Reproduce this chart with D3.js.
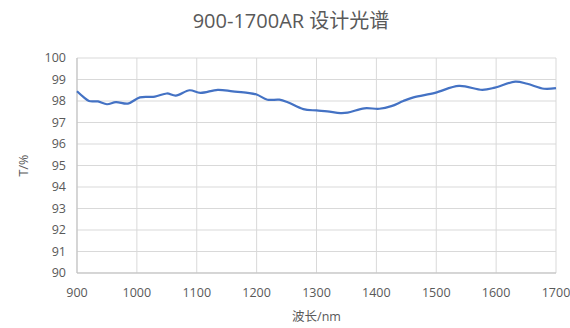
<!DOCTYPE html>
<html>
<head>
<meta charset="utf-8">
<script src="https://cdn.jsdelivr.net/npm/d3@7"></script>
<style>
  body { margin: 0; background: #fff; }
  text { font-family: "Open Sans", "Noto Sans CJK SC", sans-serif; fill: #595959; }
</style>
</head>
<body>
<script>
// spectrum
var wavelengths = [900, 910, 920, 935, 950, 965, 985, 1005, 1030, 1050, 1065, 1088, 1106, 1135, 1160, 1185, 1200,
  1218, 1238, 1252, 1278, 1300, 1318, 1340, 1352, 1380, 1405, 1425, 1445, 1462, 1498, 1538, 1577, 1598, 1632, 1652, 1680, 1700];
var transmission = [98.45, 98.2, 98.0, 97.98, 97.85, 97.95, 97.88, 98.17, 98.2, 98.35, 98.25, 98.5, 98.38, 98.52, 98.45, 98.38, 98.3,
  98.06, 98.06, 97.94, 97.62, 97.56, 97.52, 97.44, 97.46, 97.66, 97.64, 97.76, 98.0, 98.17, 98.38, 98.7, 98.52, 98.62, 98.9, 98.8, 98.57, 98.6];
var xTicks = [900, 1000, 1100, 1200, 1300, 1400, 1500, 1600, 1700];
var yTicks = [90, 91, 92, 93, 94, 95, 96, 97, 98, 99, 100];

var width = 570, height = 328;
var margin = {left: 77, right: 14, top: 58, bottom: 55};

var svg = d3.select("body").append("svg")
    .attr("width", width)
    .attr("height", height);

var x = d3.scaleLinear().domain([900, 1700]).range([margin.left, width - margin.right]);
var y = d3.scaleLinear().domain([90, 100]).range([height - margin.bottom, margin.top]);

// grid
svg.append("g").selectAll("line")
    .data(yTicks).enter().append("line")
    .attr("x1", x(900)).attr("x2", x(1700))
    .attr("y1", function(d){ return y(d); }).attr("y2", function(d){ return y(d); })
    .attr("stroke", "#d9d9d9").attr("stroke-width", 1);

svg.append("g").selectAll("line")
    .data(xTicks).enter().append("line")
    .attr("x1", function(d){ return x(d); }).attr("x2", function(d){ return x(d); })
    .attr("y1", y(90)).attr("y2", y(100))
    .attr("stroke", "#d9d9d9").attr("stroke-width", 1);

// axis lines
svg.append("line")
    .attr("x1", x(900)).attr("x2", x(1700)).attr("y1", y(90)).attr("y2", y(90))
    .attr("stroke", "#bfbfbf");
svg.append("line")
    .attr("x1", x(900)).attr("x2", x(900)).attr("y1", y(90)).attr("y2", y(100))
    .attr("stroke", "#bfbfbf");

// tick labels
svg.append("g").selectAll("text")
    .data(yTicks).enter().append("text")
    .attr("x", x(900) - 11)
    .attr("y", function(d){ return y(d); })
    .attr("dy", "0.35em")
    .attr("text-anchor", "end")
    .attr("font-size", 12.5)
    .text(function(d){ return d; });

svg.append("g").selectAll("text")
    .data(xTicks).enter().append("text")
    .attr("x", function(d){ return x(d); })
    .attr("y", y(90) + 24)
    .attr("text-anchor", "middle")
    .attr("font-size", 12.5)
    .text(function(d){ return d; });

// titles
svg.append("text")
    .attr("x", 291).attr("y", 28)
    .attr("text-anchor", "middle")
    .attr("font-size", 20)
    .text("900-1700AR 设计光谱");

svg.append("text")
    .attr("x", x(1300)).attr("y", 321)
    .attr("text-anchor", "middle")
    .attr("font-size", 12.5)
    .text("波长/nm");

svg.append("text")
    .attr("transform", "translate(28," + y(95) + ") rotate(-90)")
    .attr("text-anchor", "middle")
    .attr("font-size", 12.5)
    .text("T/%");

// curve
var pts = wavelengths.map(function(w, i){ return [w, transmission[i]]; });
var line = d3.line()
    .x(function(d){ return x(d[0]); })
    .y(function(d){ return y(d[1]); })
    .curve(d3.curveCatmullRom.alpha(0.5));

svg.append("path")
    .datum(pts)
    .attr("fill", "none")
    .attr("stroke", "#4472c4")
    .attr("stroke-width", 2.2)
    .attr("d", line);
</script>
</body>
</html>
